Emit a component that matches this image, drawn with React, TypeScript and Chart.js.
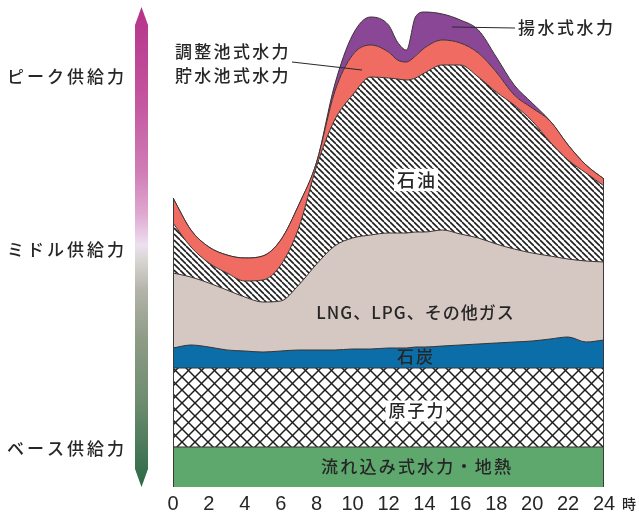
import React, { useEffect, useRef } from "react";
import { Chart, registerables } from "chart.js";

Chart.register(...registerables);

// hour of day (extra half-hour points around the midday dip)
const hours = [0, 1, 2, 3, 4, 5, 6, 7, 8, 9, 10, 11, 12, 12.5, 13, 13.5, 14, 15, 16, 17, 18, 19, 20, 21, 22, 23, 24];
const xTickValues = [0, 2, 4, 6, 8, 10, 12, 14, 16, 18, 20, 22, 24];

// supply by source (relative units, stacked bottom to top)
const runOfRiverGeothermal = [40, 40, 40, 40, 40, 40, 40, 40, 40, 40, 40, 40, 40, 40, 40, 40, 40, 40, 40, 40, 40, 40, 40, 40, 40, 40, 40];
const nuclear = [79, 79, 79, 79, 79, 79, 79, 79, 79, 79, 79, 79, 79, 79, 79, 79, 79, 79, 79, 79, 79, 79, 79, 79, 79, 79, 79];
const coal = [20, 23, 21, 18, 17, 16, 17, 18, 18, 18, 19, 19, 20, 20, 20, 21, 21, 22, 23, 24, 25, 26, 27, 29, 31, 26, 28];
const gas = [75, 68, 64, 60, 54, 50, 50, 65, 86, 104, 111, 114, 115, 115, 115, 115, 115, 116, 111, 106, 99, 93, 88, 83, 78, 81, 78];
const oil = [50, 30, 20, 17, 16, 22, 36, 57, 98, 126, 143, 158, 155, 154, 153, 154, 159, 165, 169, 161, 152, 144, 132, 114, 99, 88, 76];
const pondageHydro = [25, 17, 16, 18, 23, 24, 25, 23, 4, 28, 40, 32, 26, 19, 18, 22, 25, 25, 22, 24, 20, 10, 13, 21, 15, 8, 7];
const pumpedHydro = [0, 0, 0, 0, 0, 0, 0, 0, 0, 7, 20, 28, 27, 18, 12, 39, 36, 26, 23, 23, 15, 10, 5, 0, 0, 0, 0];

const CJK = "'Noto Sans CJK JP', 'Noto Sans', sans-serif";

function makeDiagPattern(): CanvasPattern | string {
  const s = 6;
  const c = document.createElement("canvas");
  c.width = s;
  c.height = s;
  const g = c.getContext("2d");
  if (!g) return "#888";
  g.fillStyle = "#ffffff";
  g.fillRect(0, 0, s, s);
  g.strokeStyle = "#1e1e1e";
  g.lineWidth = 1.6;
  for (const k of [-s, 0, s]) {
    g.beginPath();
    g.moveTo(k, 0);
    g.lineTo(k + s, s);
    g.stroke();
  }
  return g.createPattern(c, "repeat") || "#888";
}

function makeCrossPattern(): CanvasPattern | string {
  const s = 13;
  const c = document.createElement("canvas");
  c.width = s;
  c.height = s;
  const g = c.getContext("2d");
  if (!g) return "#aaa";
  g.fillStyle = "#ffffff";
  g.fillRect(0, 0, s, s);
  g.strokeStyle = "#1e1e1e";
  g.lineWidth = 1.5;
  for (const k of [-s, 0, s]) {
    g.beginPath();
    g.moveTo(k, 0);
    g.lineTo(k + s, s);
    g.stroke();
    g.beginPath();
    g.moveTo(k + s, 0);
    g.lineTo(k, s);
    g.stroke();
  }
  return g.createPattern(c, "repeat") || "#aaa";
}

function drawText(
  ctx: CanvasRenderingContext2D,
  s: string,
  x: number,
  y: number,
  size: number,
  ls: number,
  align: "left" | "center" = "left",
  box = false
) {
  ctx.font = `500 ${size}px ${CJK}`;
  (ctx as any).letterSpacing = ls + "px";
  const w = ctx.measureText(s).width - ls;
  const x0 = align === "center" ? x - w / 2 : x;
  if (box) {
    ctx.fillStyle = "#ffffff";
    ctx.fillRect(x0 - 3, y - size * 0.62, w + 6, size * 1.24);
  }
  ctx.textAlign = "left";
  ctx.textBaseline = "middle";
  ctx.fillStyle = "#262626";
  ctx.fillText(s, x0, y);
  (ctx as any).letterSpacing = "0px";
}

const overlayPlugin = {
  id: "overlay",
  afterDraw(chart: any) {
    const ctx: CanvasRenderingContext2D = chart.ctx;
    const { left, right, bottom } = chart.chartArea;
    const n = chart.data.datasets.length;
    const topPts = chart.getDatasetMeta(n - 1).data;
    ctx.save();

    // side edges of the stacked area
    ctx.strokeStyle = "#3a3a3a";
    ctx.lineWidth = 1;
    ctx.beginPath();
    ctx.moveTo(left + 0.5, bottom);
    ctx.lineTo(left + 0.5, topPts[0].y);
    ctx.moveTo(right - 0.5, bottom);
    ctx.lineTo(right - 0.5, topPts[topPts.length - 1].y);
    ctx.stroke();

    // gradient arrow on the left
    const ax0 = 135, ax1 = 148, axm = 141.5;
    const grad = ctx.createLinearGradient(0, 8, 0, 487);
    grad.addColorStop(0, "#b5338a");
    grad.addColorStop(0.19, "#c4559f");
    grad.addColorStop(0.34, "#d07cb5");
    grad.addColorStop(0.43, "#dfa8d0");
    grad.addColorStop(0.495, "#ece0ef");
    grad.addColorStop(0.53, "#d6d4d0");
    grad.addColorStop(0.59, "#b3b3aa");
    grad.addColorStop(0.69, "#8e9c86");
    grad.addColorStop(0.82, "#6e8c70");
    grad.addColorStop(1, "#2b6a45");
    ctx.fillStyle = grad;
    ctx.beginPath();
    ctx.moveTo(axm, 7);
    ctx.lineTo(ax1, 25);
    ctx.lineTo(ax1, 469);
    ctx.lineTo(axm, 487);
    ctx.lineTo(ax0, 469);
    ctx.lineTo(ax0, 25);
    ctx.closePath();
    ctx.fill();

    // left labels
    drawText(ctx, "ピーク供給力", 7, 77, 17, 3);
    drawText(ctx, "ミドル供給力", 7, 250, 17, 3);
    drawText(ctx, "ベース供給力", 7, 449, 17, 3);

    // leader lines
    ctx.strokeStyle = "#2a2a2a";
    ctx.lineWidth = 1.2;
    ctx.beginPath();
    ctx.moveTo(452, 27);
    ctx.lineTo(515, 28);
    ctx.moveTo(292, 62);
    ctx.lineTo(362, 70);
    ctx.stroke();

    drawText(ctx, "揚水式水力", 518, 28, 17, 2.5);
    drawText(ctx, "調整池式水力", 175, 52, 17, 2.3);
    drawText(ctx, "貯水池式水力", 175, 76, 17, 2.3);

    // in-area labels
    drawText(ctx, "石油", 416, 180, 18, 2, "center", true);
    drawText(ctx, "LNG、LPG、その他ガス", 415, 313, 17, 1, "center");
    drawText(ctx, "石炭", 415, 357, 17, 2, "center");
    drawText(ctx, "原子力", 416, 411, 17, 2, "center", true);
    drawText(ctx, "流れ込み式水力・地熱", 416, 467, 17, 2.2, "center");

    // unit after the last hour tick
    drawText(ctx, "時", 622, 504, 14, 0);

    ctx.restore();
  },
};

export default function App() {
  const ref = useRef<HTMLCanvasElement | null>(null);

  useEffect(() => {
    const canvas = ref.current;
    if (!canvas) return;
    const diag = makeDiagPattern();
    const cross = makeCrossPattern();
    const border = "#3a3232";
    const mk = (label: string, values: number[], bg: any, fill: any) => ({
      label,
      data: values.map((v, i) => ({ x: hours[i], y: v })),
      backgroundColor: bg,
      borderColor: border,
      borderWidth: 1,
      fill,
      pointRadius: 0,
      cubicInterpolationMode: "monotone" as const,
    });

    const chart = new Chart(canvas, {
      type: "line",
      data: {
        datasets: [
          mk("流れ込み式水力・地熱", runOfRiverGeothermal, "#5ea86e", "origin"),
          mk("原子力", nuclear, cross, "-1"),
          mk("石炭", coal, "#0b6ea8", "-1"),
          mk("LNG、LPG、その他ガス", gas, "#d5c7c1", "-1"),
          mk("石油", oil, diag, "-1"),
          mk("調整池式水力・貯水池式水力", pondageHydro, "#f06c62", "-1"),
          mk("揚水式水力", pumpedHydro, "#8a4796", "-1"),
        ],
      },
      options: {
        animation: false,
        responsive: false,
        events: [],
        layout: { padding: { left: 173, right: 35, top: 7, bottom: 0 } },
        plugins: {
          legend: { display: false },
          tooltip: { enabled: false },
          title: { display: false },
        },
        scales: {
          x: {
            type: "linear",
            min: 0,
            max: 24,
            grid: { display: false, drawTicks: false },
            border: { display: false },
            afterBuildTicks: (scale: any) => {
              scale.ticks = xTickValues.map((v) => ({ value: v }));
            },
            afterFit: (scale: any) => {
              scale.height = 26;
            },
            ticks: {
              padding: 5,
              color: "#262626",
              maxRotation: 0,
              autoSkip: false,
              font: { family: "'Liberation Sans Narrow', 'Liberation Sans', sans-serif", size: 20 },
            },
          },
          y: {
            display: false,
            stacked: true,
            min: 0,
            max: 480,
          },
        },
      },
      plugins: [overlayPlugin],
    });
    return () => chart.destroy();
  }, []);

  return (
    <div style={{ position: "absolute", left: 0, top: 0, width: 639, height: 513, background: "#ffffff" }}>
      <canvas ref={ref} width={639} height={513} style={{ width: 639, height: 513, display: "block" }} />
    </div>
  );
}
